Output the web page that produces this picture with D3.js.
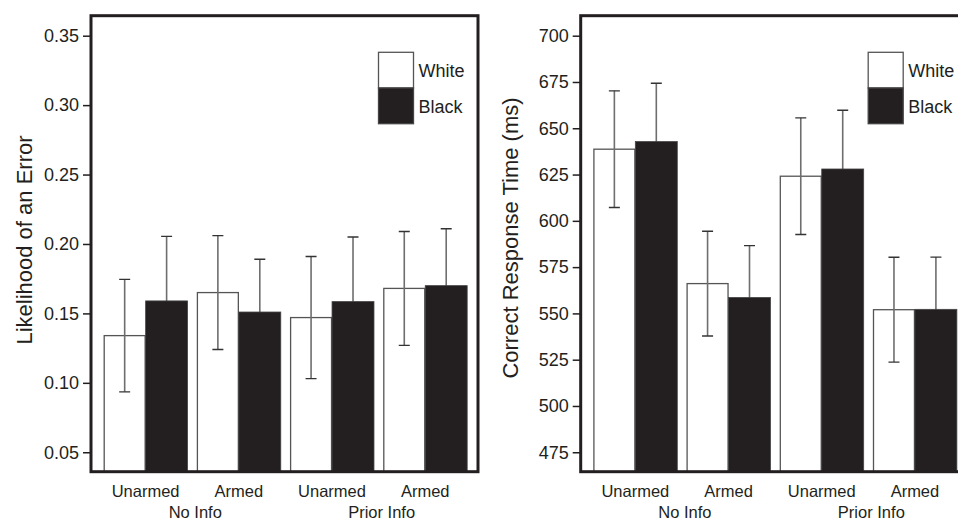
<!DOCTYPE html>
<html>
<head>
<meta charset="utf-8">
<script src="https://cdn.jsdelivr.net/npm/d3@7"></script>
<style>
  html, body { margin: 0; padding: 0; background: #fff; }
  svg { display: block; }
  text { font-family: "Liberation Sans", Arial, Helvetica, sans-serif; fill: #231f20; }
</style>
</head>
<body>
<svg id="chart" width="958" height="521"></svg>
<script>
// ---- data ----
const categories = ["Unarmed", "Armed", "Unarmed", "Armed"];
const conditions = ["No Info", "No Info", "Prior Info", "Prior Info"];
const conditionLabels = ["No Info", "Prior Info"];
const races = ["White", "Black"];

const errorWhite   = [0.134, 0.165, 0.147, 0.168];
const errorBlack   = [0.159, 0.151, 0.1585, 0.170];
const errorWhiteSE = [0.0405, 0.041, 0.044, 0.041];
const errorBlackSE = [0.0465, 0.038, 0.0465, 0.041];
const errorTicks   = [0.05, 0.10, 0.15, 0.20, 0.25, 0.30, 0.35];

const rtWhite   = [638.7, 566.1, 624.1, 552.0];
const rtBlack   = [642.8, 558.6, 628.0, 552.2];
const rtWhiteSE = [31.5, 28.3, 31.5, 28.3];
const rtBlackSE = [31.5, 28.0, 31.7, 28.2];
const rtTicks   = [475, 500, 525, 550, 575, 600, 625, 650, 675, 700];

// ---- drawing ----
const svg = d3.select("#chart");
const INK = "#231f20";
const frameW = 387, frameTop = 15.7, frameBottom = 471.7;

function drawPanel(cfg) {
  const x0 = cfg.x0;
  const g = svg.append("g");
  const y = d3.scaleLinear().domain(cfg.domain).range([frameBottom, frameTop]);
  const groupKeys = d3.range(categories.length);
  const xg = d3.scaleBand().domain(groupKeys)
    .range([x0 + 8.04, x0 + 8.04 + 372.8]).paddingInner(0.1).paddingOuter(0.05);
  const xr = d3.scaleBand().domain(races).range([0, xg.bandwidth()]).padding(0);

  const rows = groupKeys.map(i => ({
    i,
    White: { v: cfg.white[i], se: cfg.whiteSE[i] },
    Black: { v: cfg.black[i], se: cfg.blackSE[i] }
  }));

  const clip = "clip" + cfg.id;
  svg.append("clipPath").attr("id", clip).append("rect")
    .attr("x", x0).attr("y", frameTop).attr("width", frameW).attr("height", frameBottom - frameTop);
  const plot = g.append("g").attr("clip-path", `url(#${clip})`);

  // white bars
  plot.selectAll("rect.white").data(rows).join("rect").attr("class", "white")
    .attr("x", d => xg(d.i) + xr("White") + 0.5)
    .attr("width", xr.bandwidth() - 1)
    .attr("y", d => y(d.White.v))
    .attr("height", d => frameBottom - y(d.White.v) + 2)
    .attr("fill", "#fff").attr("stroke", "#555").attr("stroke-width", 1.3);

  // error bars
  const errs = [];
  rows.forEach(d => races.forEach(r => errs.push({
    cx: xg(d.i) + xr(r) + xr.bandwidth() / 2, v: d[r].v, se: d[r].se
  })));
  const eb = plot.selectAll("g.err").data(errs).join("g").attr("class", "err");
  eb.append("line")
    .attr("x1", d => d.cx).attr("x2", d => d.cx)
    .attr("y1", d => y(d.v + d.se)).attr("y2", d => y(d.v - d.se))
    .attr("stroke", "#6e6e6e").attr("stroke-width", 1.6);
  [1, -1].forEach(s => {
    eb.append("line")
      .attr("x1", d => d.cx - 5.5).attr("x2", d => d.cx + 5.5)
      .attr("y1", d => y(d.v + s * d.se)).attr("y2", d => y(d.v + s * d.se))
      .attr("stroke", "#333").attr("stroke-width", 1.4);
  });

  // black bars
  plot.selectAll("rect.black").data(rows).join("rect").attr("class", "black")
    .attr("x", d => xg(d.i) + xr("Black"))
    .attr("width", xr.bandwidth())
    .attr("y", d => y(d.Black.v))
    .attr("height", d => frameBottom - y(d.Black.v) + 2)
    .attr("fill", INK).attr("stroke", "#444").attr("stroke-width", 0.8);

  // frame
  g.append("rect").attr("x", x0).attr("y", frameTop)
    .attr("width", frameW).attr("height", frameBottom - frameTop)
    .attr("fill", "none").attr("stroke", INK).attr("stroke-width", 3);

  // y axis
  const ax = g.append("g").attr("transform", `translate(${x0},0)`)
    .call(d3.axisLeft(y).tickValues(cfg.ticks).tickFormat(cfg.fmt).tickSize(8).tickPadding(4));
  ax.select(".domain").remove();
  ax.selectAll(".tick line").attr("stroke", INK).attr("stroke-width", 1.5);
  ax.selectAll(".tick text").attr("fill", INK)
    .style("font-family", '"Liberation Sans", Arial, Helvetica, sans-serif')
    .style("font-size", "18px");

  // axis title
  g.append("text")
    .attr("transform", `translate(${cfg.titleX},${cfg.titleY}) rotate(-90)`)
    .attr("text-anchor", "middle")
    .style("font-size", "22px")
    .text(cfg.title);

  // category labels
  g.selectAll("text.cat").data(groupKeys).join("text").attr("class", "cat")
    .attr("x", i => xg(i) + xg.bandwidth() / 2)
    .attr("y", 496.7)
    .attr("text-anchor", "middle")
    .style("font-size", "16.5px")
    .text(i => categories[i]);

  conditionLabels.forEach(c => {
    const idx = groupKeys.filter(i => conditions[i] === c);
    const cx = d3.mean(idx, i => xg(i) + xg.bandwidth() / 2);
    g.append("text").attr("x", cx + 3).attr("y", 518.3)
      .attr("text-anchor", "middle").style("font-size", "16.5px").text(c);
  });

  // legend
  const lx = x0 + 287.5, ly = 52.3, bw = 35, bh = 35.7;
  const leg = g.append("g");
  races.forEach((r, k) => {
    leg.append("rect").attr("x", lx).attr("y", ly + k * bh)
      .attr("width", bw).attr("height", bh)
      .attr("fill", r === "White" ? "#fff" : INK)
      .attr("stroke", r === "White" ? "#555" : "#444").attr("stroke-width", 1.3);
    leg.append("text").attr("x", lx + bw + 5).attr("y", ly + k * bh + 24.5)
      .style("font-size", "18px").text(r);
  });
}

drawPanel({
  id: "L", x0: 91, domain: [0.036, 0.3644],
  white: errorWhite, black: errorBlack, whiteSE: errorWhiteSE, blackSE: errorBlackSE,
  ticks: errorTicks, fmt: d3.format(".2f"),
  title: "Likelihood of an Error", titleX: 32, titleY: 240
});
drawPanel({
  id: "R", x0: 580.7, domain: [464.5, 710.8],
  white: rtWhite, black: rtBlack, whiteSE: rtWhiteSE, blackSE: rtBlackSE,
  ticks: rtTicks, fmt: d3.format("d"),
  title: "Correct Response Time (ms)", titleX: 518, titleY: 238
});
</script>
</body>
</html>
